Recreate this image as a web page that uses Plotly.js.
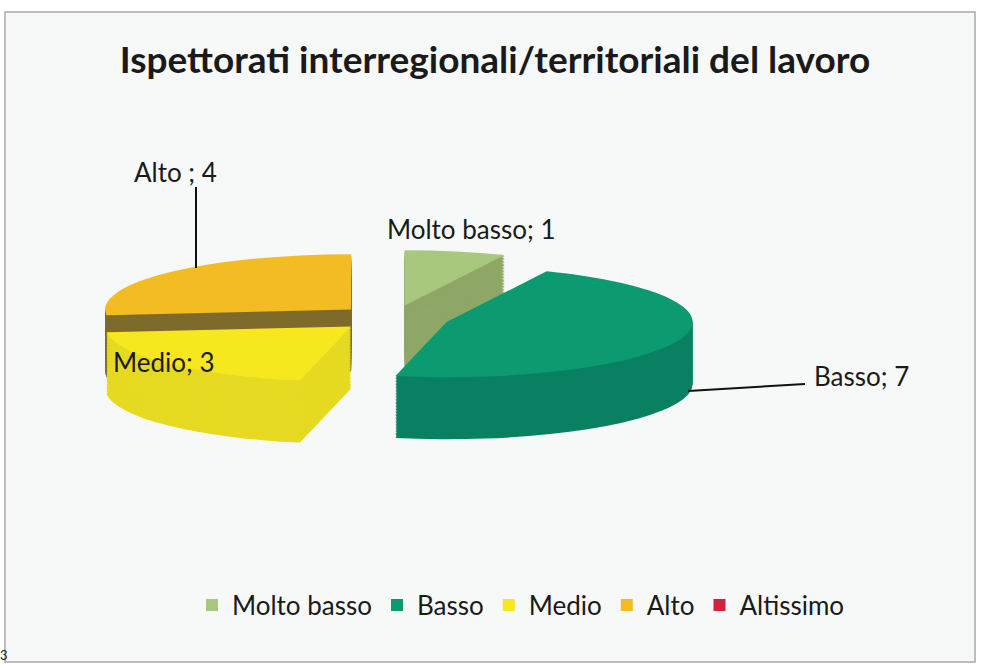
<!DOCTYPE html>
<html><head><meta charset="utf-8">
<script src="https://cdn.plot.ly/plotly-3.0.1.min.js"></script>
<style>html,body{margin:0;padding:0;background:#fff}#c{width:987px;height:668px}</style></head>
<body><div id="c"></div>
<script>
const categories = ["Molto basso","Basso","Medio","Alto","Altissimo"];
const values = [1,7,3,4,0];
const explode = [0.229,0.229,0.229,0.229,0.229];
const topColors = ["#a8c87e","#0c9a70","#f6e71e","#f3bc22","#d3213f"];
const sideColors = ["#8fa767","#0a8062","#e6da22","#7e6a2b","#a01a30"];
const labelTexts = ["Molto basso; 1","Basso; 7","Medio; 3","Alto ; 4"];

const W=987,H=668;
const D=240, preCx=300, preCy=160;         // pie box before flattening
const targetR=246, ratio=0.225, depth=62, finalCx=393, finalCy=318;
const layers=42;
const r0=D/(2*(1+explode[0]));
const sx=targetR/r0, sy=sx*ratio;
const preDepth=depth/sy;

const traces=[];
for(let i=layers;i>=0;i--){
  const off=preDepth*i/layers;
  const top=i===0;
  traces.push({
    type:'pie',labels:categories,values:values,sort:false,direction:'clockwise',rotation:0,
    pull:explode,textinfo:'none',hoverinfo:'skip',showlegend:top,
    marker:{colors:top?topColors:sideColors,line:{width:0}},
    domain:{x:[(preCx-D/2)/W,(preCx+D/2)/W],y:[1-(preCy+off+D/2)/H,1-(preCy+off-D/2)/H]}
  });
}
const font={family:'Lato, sans-serif',color:'#1a1a1a'};
function px(x){return x/W} function py(y){return 1-y/H}
function txt(t,x,y,size,extra){return Object.assign({text:t,x:px(x),y:py(y),xref:'paper',yref:'paper',showarrow:false,xanchor:'center',yanchor:'middle',font:Object.assign({},font,{size:size})},extra||{})}
const layout={
  width:W,height:H,margin:{l:0,r:0,t:0,b:0},paper_bgcolor:'#ffffff',
  title:{text:'Ispettorati interregionali/territoriali del lavoro',x:495/W,xanchor:'center',y:1-60/H,yanchor:'middle',font:{family:'Lato, sans-serif',size:37,weight:700,color:'#1a1a1a'}},
  legend:{orientation:'h',x:192/W,xanchor:'left',y:py(605),yanchor:'middle',font:Object.assign({},font,{size:26}),bgcolor:'rgba(0,0,0,0)'},
  shapes:[
    {type:'rect',xref:'paper',yref:'paper',x0:px(5),x1:px(975),y0:py(662),y1:py(12),line:{color:'#a9a9a9',width:1.5},fillcolor:'#f7f9f8',layer:'below'},
    {type:'line',xref:'paper',yref:'paper',x0:px(196),x1:px(196),y0:py(187),y1:py(268),line:{color:'#111',width:2}},
    {type:'line',xref:'paper',yref:'paper',x0:px(688),x1:px(805),y0:py(391),y1:py(384),line:{color:'#111',width:2}}
  ],
  annotations:[
    txt(labelTexts[3],175,172,26),
    txt(labelTexts[0],471,229,26),
    txt(labelTexts[2],164,362,26),
    txt(labelTexts[1],861,376,26),
    txt('3',4,655,13)
  ]
};
Plotly.newPlot('c',traces,layout,{staticPlot:true,displayModeBar:false}).then(()=>{
  document.querySelector('.pielayer').setAttribute('transform',
    `translate(${finalCx},${finalCy}) scale(${sx},${sy}) translate(${-preCx},${-preCy})`);
});
</script></body></html>
